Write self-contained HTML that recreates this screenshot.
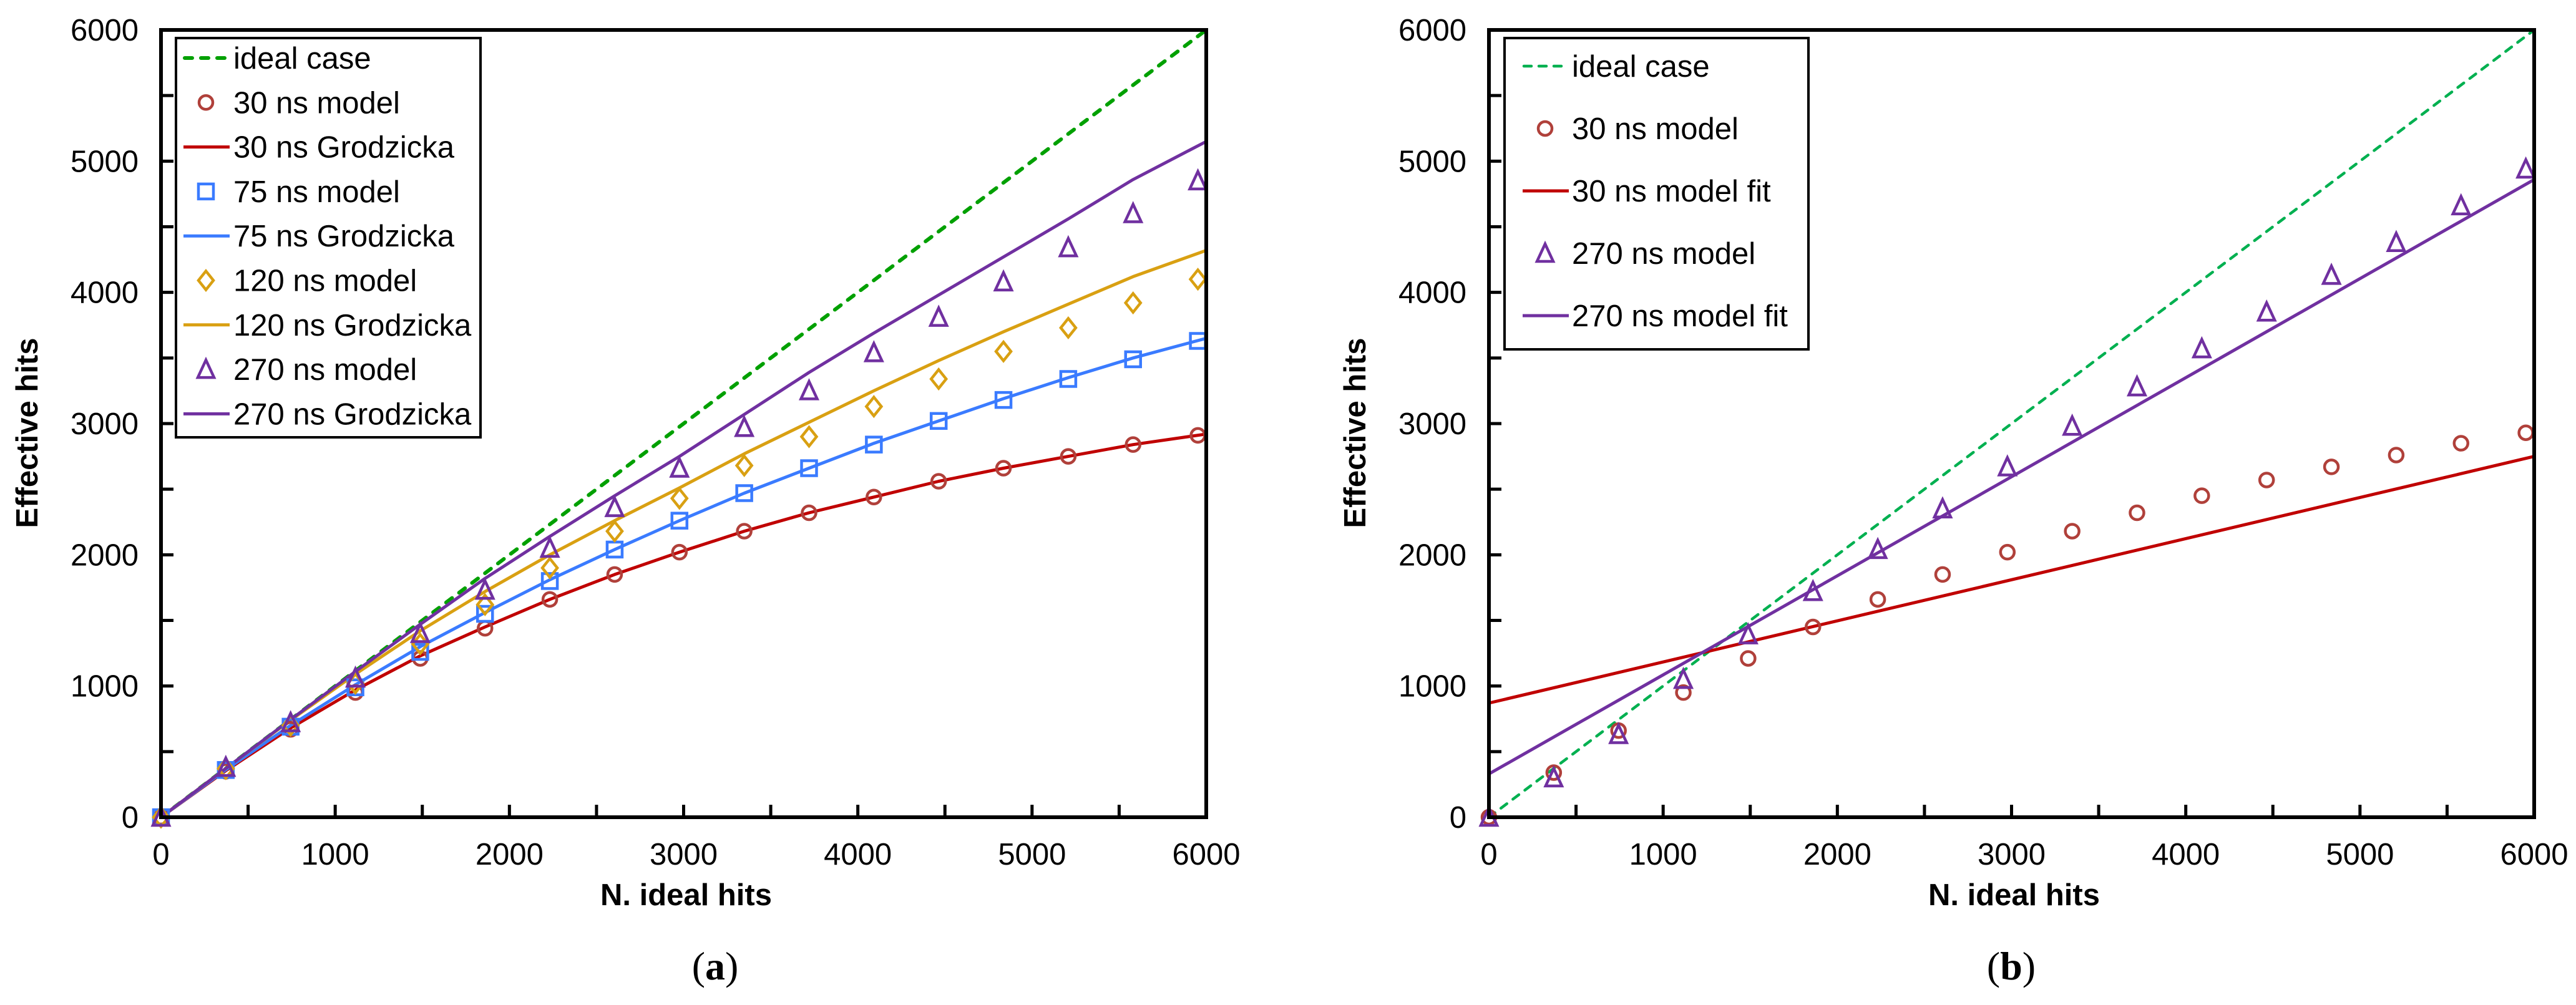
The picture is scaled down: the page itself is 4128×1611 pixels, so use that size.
<!DOCTYPE html>
<html><head><meta charset="utf-8"><style>
html,body{margin:0;padding:0;background:#fff;}
svg{display:block;font-family:"Liberation Sans",Arial,sans-serif;}
</style></head><body>
<svg id="fig" width="4128" height="1611" viewBox="0 0 4128 1611" xmlns="http://www.w3.org/2000/svg">
<rect x="0" y="0" width="4128" height="1611" fill="#fff"/>
<g id="chartA"></g>
<g id="chartB"></g>
</svg>
<script>
// ---------- data ----------
const xModel = [0,372,744,1116,1488,1860,2232,2604,2976,3348,3720,4092,4464,4836,5208,5580,5952];
const xLine = [0,372,744,1116,1488,1860,2232,2604,2976,3348,3720,4092,4464,4836,5208,5580,6000];
const idealX = [0,6000];
const idealY = [0,6000];
// panel a
const a30Model = [0,350,670,950,1210,1440,1660,1850,2020,2180,2320,2440,2560,2660,2750,2840,2910];
const a30Grod  = [0,355,680,970,1230,1450,1660,1850,2020,2180,2320,2440,2560,2660,2750,2840,2920];
const a75Model = [0,360,690,990,1260,1550,1800,2040,2260,2470,2660,2840,3020,3180,3340,3490,3630];
const a75Grod  = [0,362,700,1010,1300,1560,1810,2040,2260,2470,2660,2850,3020,3190,3350,3500,3650];
const a120Model= [0,370,700,1020,1320,1620,1900,2180,2430,2680,2900,3130,3340,3550,3730,3920,4100];
const a120Grod = [0,372,740,1090,1420,1720,2000,2260,2510,2770,3010,3250,3480,3700,3910,4120,4320];
const a270Model= [0,380,720,1060,1400,1730,2050,2360,2660,2970,3250,3540,3810,4080,4340,4600,4850];
const a270Grod = [0,372,744,1110,1470,1820,2140,2450,2750,3070,3390,3690,3980,4270,4560,4860,5150];
// panel b
const b30Model = [0,340,660,950,1210,1450,1660,1850,2020,2180,2320,2450,2570,2670,2760,2850,2930];
const b270Model= [0,300,630,1050,1390,1720,2040,2350,2670,2980,3280,3570,3850,4130,4380,4660,4940];
const fitX = [0,6000];
const b30Fit = [870,2750];
const b270Fit = [330,4860];
// ticks
const tickVals = [0,1000,2000,3000,4000,5000,6000];
const minorVals = [500,1500,2500,3500,4500,5500];

const NS='http://www.w3.org/2000/svg';
function mk(parent, tag, attrs){const e=document.createElementNS(NS,tag);for(const k in attrs)e.setAttribute(k,attrs[k]);parent.appendChild(e);return e;}

const PT=48, PB=1310, W=1675;
function makeAxes(g, left){
  const sx=v=>left+v/6000*W, sy=v=>PB-v/6000*(PB-PT);
  return {sx,sy};
}
function drawFrame(g, left, sx, sy, titleX){
  // ticks
  tickVals.forEach(v=>{
    const t=mk(g,'line',{x1:sx(v),x2:sx(v),y1:PB,y2:PB-20,stroke:'#000','stroke-width':5});
    
    
    const l=mk(g,'line',{x1:left,x2:left+20,y1:sy(v),y2:sy(v),stroke:'#000','stroke-width':5});
    
    
    const tx=mk(g,'text',{x:sx(v),y:1386,'font-size':49,'text-anchor':'middle',fill:'#000'});
    tx.textContent=v;
    
    
    const ty=mk(g,'text',{x:left-36,y:sy(v)+17,'font-size':49,'text-anchor':'end',fill:'#000'});
    ty.textContent=v;
    
    
  });
  minorVals.forEach(v=>{
    const t=mk(g,'line',{x1:sx(v),x2:sx(v),y1:PB,y2:PB-20,stroke:'#000','stroke-width':5});
    
    
    const l=mk(g,'line',{x1:left,x2:left+20,y1:sy(v),y2:sy(v),stroke:'#000','stroke-width':5});
    
    
  });
  const fr=mk(g,'rect',{x:left,y:PT,width:W,height:PB-PT,fill:'none',stroke:'#000','stroke-width':6});
  
  
  const xt=mk(g,'text',{x:left+W/2+4,y:1451,'font-size':49,'font-weight':'bold','text-anchor':'middle'});
  xt.textContent='N. ideal hits';
  
  
  const yt=mk(g,'text',{x:0,y:0,'font-size':49,'font-weight':'bold','text-anchor':'middle',transform:`translate(${titleX},694) rotate(-90)`});
  yt.textContent='Effective hits';
  
  
}
function line(g,xs,ys,sx,sy,color,w,dash,name){
  const d=xs.map((x,i)=>(i?'L':'M')+sx(x).toFixed(1)+','+sy(ys[i]).toFixed(1)).join('');
  const p=mk(g,'path',{d,fill:'none',stroke:color,'stroke-width':w,'stroke-linejoin':'round'});
  if(dash){p.setAttribute('stroke-dasharray',dash);p.setAttribute('stroke-linecap','round');}
  
  
  return p;
}
function marker(g,type,cx,cy,color){
  let e;
  if(type==='circle') e=mk(g,'circle',{cx,cy,r:11,fill:'none',stroke:color,'stroke-width':4.5});
  else if(type==='square') e=mk(g,'rect',{x:cx-12,y:cy-12,width:24,height:24,fill:'none',stroke:color,'stroke-width':4.5});
  else if(type==='diamond') e=mk(g,'path',{d:`M${cx},${cy-15}L${cx+12},${cy}L${cx},${cy+15}L${cx-12},${cy}Z`,fill:'none',stroke:color,'stroke-width':4.5});
  else e=mk(g,'path',{d:`M${cx},${cy-15}L${cx+13},${cy+13}L${cx-13},${cy+13}Z`,fill:'none',stroke:color,'stroke-width':4.5,'stroke-linejoin':'miter'});
  return e;
}
function points(g,xs,ys,sx,sy,type,color,name){
  xs.forEach((x,i)=>{
    const m=marker(g,type,sx(x),sy(ys[i]),color);
    
    
  });
}
const C30='#B0403A', R='#C00000', B='#3A7BFF', Y='#D9A012', P='#7030A0';

// ---------- panel a ----------
(function(){
  const g=document.getElementById('chartA'), left=258;
  const {sx,sy}=makeAxes(g,left);
  line(g,idealX,idealY,sx,sy,'#00A000',6,'12 14','ideal-line');
  line(g,xLine,a30Grod,sx,sy,R,5,null,'line-30ns-grodzicka');
  line(g,xLine,a75Grod,sx,sy,B,5,null,'line-75ns-grodzicka');
  line(g,xLine,a120Grod,sx,sy,Y,5,null,'line-120ns-grodzicka');
  line(g,xLine,a270Grod,sx,sy,P,5,null,'line-270ns-grodzicka');
  points(g,xModel,a30Model,sx,sy,'circle',C30,'point-30ns-model');
  points(g,xModel,a75Model,sx,sy,'square',B,'point-75ns-model');
  points(g,xModel,a120Model,sx,sy,'diamond',Y,'point-120ns-model');
  points(g,xModel,a270Model,sx,sy,'triangle',P,'point-270ns-model');
  drawFrame(g,left,sx,sy,60);
  const lg=mk(g,'g',{});
  
  
  mk(lg,'rect',{x:282,y:61,width:488,height:640,fill:'#fff',stroke:'#000','stroke-width':4});
  const entries=[['ideal case','dash','#00A000'],['30 ns model','circle',C30],['30 ns Grodzicka','line',R],['75 ns model','square',B],['75 ns Grodzicka','line',B],['120 ns model','diamond',Y],['120 ns Grodzicka','line',Y],['270 ns model','triangle',P],['270 ns Grodzicka','line',P]];
  entries.forEach((en,i)=>{
    const base=110+i*71.3, cy=base-17;
    const eg=mk(lg,'g',{});
    
    
    if(en[1]==='dash') mk(eg,'line',{x1:296,x2:366,y1:cy,y2:cy,stroke:en[2],'stroke-width':6,'stroke-dasharray':'12 14','stroke-linecap':'round'});
    else if(en[1]==='line') mk(eg,'line',{x1:294,x2:368,y1:cy,y2:cy,stroke:en[2],'stroke-width':5});
    else marker(eg,en[1],330,cy,en[2]);
    const t=mk(eg,'text',{x:374,y:base,'font-size':49});
    t.textContent=en[0];
  });
})();

// ---------- panel b ----------
(function(){
  const g=document.getElementById('chartB'), left=2386;
  const {sx,sy}=makeAxes(g,left);
  line(g,idealX,idealY,sx,sy,'#00B050',4.5,'12 12','ideal-line');
  line(g,fitX,b30Fit,sx,sy,R,5,null,'line-30ns-model-fit');
  line(g,fitX,b270Fit,sx,sy,P,5,null,'line-270ns-model-fit');
  points(g,xModel,b30Model,sx,sy,'circle',C30,'point-30ns-model');
  points(g,xModel,b270Model,sx,sy,'triangle',P,'point-270ns-model');
  drawFrame(g,left,sx,sy,2188);
  const lg=mk(g,'g',{});
  
  
  mk(lg,'rect',{x:2411,y:61,width:487,height:499,fill:'#fff',stroke:'#000','stroke-width':4});
  const entries=[['ideal case','dash','#00B050'],['30 ns model','circle',C30],['30 ns model fit','line',R],['270 ns model','triangle',P],['270 ns model fit','line',P]];
  entries.forEach((en,i)=>{
    const base=123+i*100, cy=base-17;
    const eg=mk(lg,'g',{});
    
    
    if(en[1]==='dash') mk(eg,'line',{x1:2442,x2:2513,y1:cy,y2:cy,stroke:en[2],'stroke-width':4.5,'stroke-dasharray':'12 12','stroke-linecap':'round'});
    else if(en[1]==='line') mk(eg,'line',{x1:2440,x2:2514,y1:cy,y2:cy,stroke:en[2],'stroke-width':5});
    else marker(eg,en[1],2476,cy,en[2]);
    const t=mk(eg,'text',{x:2519,y:base,'font-size':49});
    t.textContent=en[0];
  });
})();
</script>
<svg width="0" height="0" style="position:absolute"></svg>
<div style="position:absolute;left:0;top:0;width:4128px;height:1611px;pointer-events:none;font-family:'Liberation Serif',serif;font-size:64px;color:#000">
  <div style="position:absolute;left:1046px;top:1512px;width:200px;text-align:center">(<b>a</b>)</div>
  <div style="position:absolute;left:3123px;top:1512px;width:200px;text-align:center">(<b>b</b>)</div>
</div>
</body></html>
